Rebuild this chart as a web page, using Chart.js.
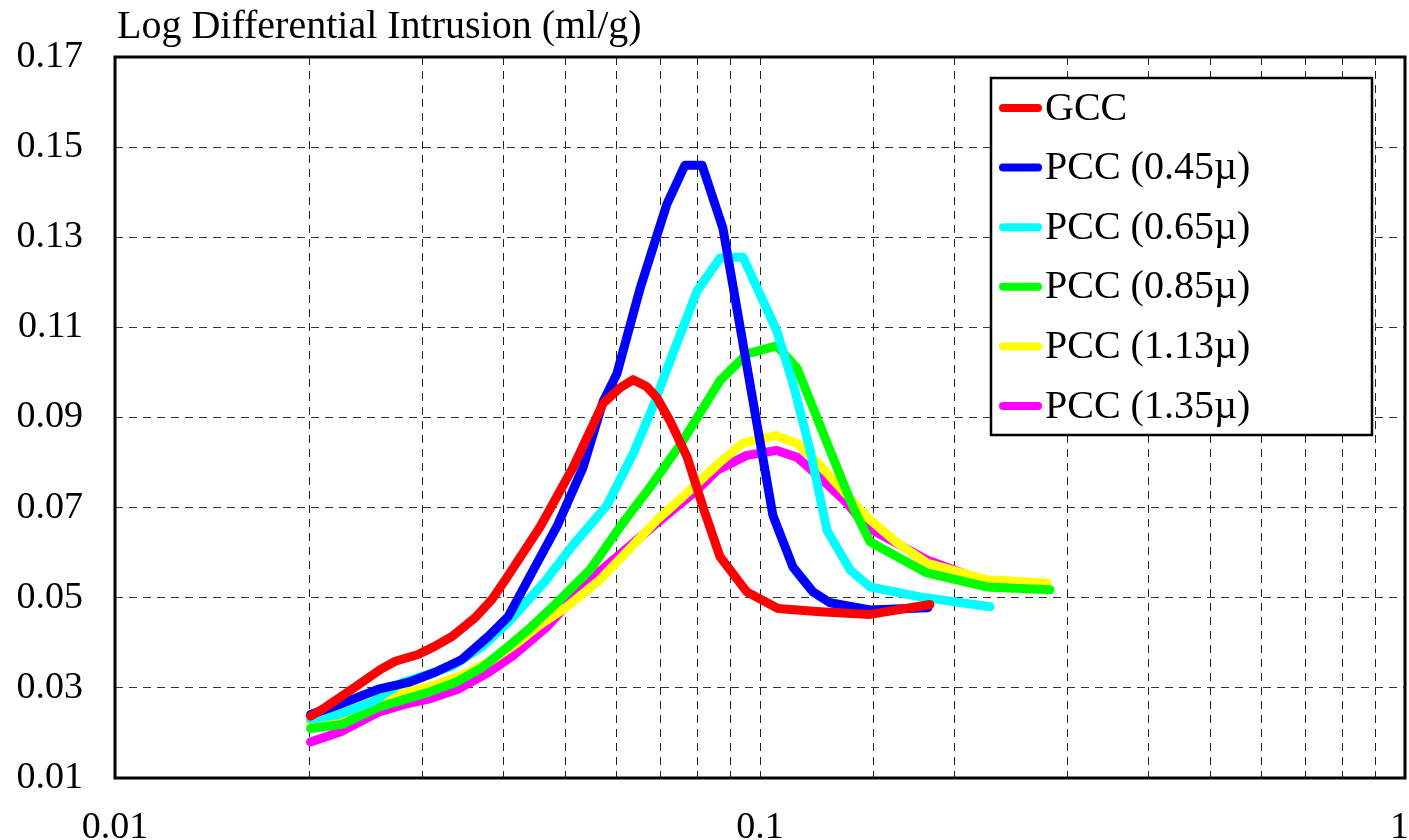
<!DOCTYPE html>
<html>
<head>
<meta charset="utf-8">
<script src="https://cdn.jsdelivr.net/npm/chart.js@4.4.0/dist/chart.umd.min.js"></script>
<style>
  html, body { margin: 0; padding: 0; background: #fff; }
  canvas { display: block; }
</style>
</head>
<body>
<canvas id="chart" width="1409" height="840"></canvas>
<script>
// pore diameter (µm) vs log differential intrusion (ml/g)
const seriesNames = ["GCC", "PCC (0.45µ)", "PCC (0.65µ)", "PCC (0.85µ)", "PCC (1.13µ)", "PCC (1.35µ)"]
const seriesColors = ["#ff0000", "#0000ff", "#00ffff", "#00ff00", "#ffff00", "#ff00ff"]

const gccX = [0.0201, 0.0212, 0.0233, 0.0258, 0.0272, 0.0295, 0.0313, 0.0333, 0.0362, 0.0384, 0.0403, 0.0456, 0.0513, 0.0571, 0.0607, 0.0636, 0.0668, 0.0692, 0.0725, 0.0771, 0.0816, 0.0867, 0.0954, 0.1066, 0.1239, 0.1481, 0.1834]
const gccY = [0.0237, 0.0257, 0.0297, 0.0341, 0.0359, 0.0374, 0.0392, 0.0414, 0.0456, 0.0496, 0.0540, 0.0657, 0.0789, 0.0931, 0.0966, 0.0984, 0.0968, 0.0944, 0.0893, 0.0812, 0.0701, 0.0591, 0.0513, 0.0476, 0.0469, 0.0463, 0.0485]

const p045X = [0.0201, 0.0219, 0.0256, 0.0285, 0.0313, 0.0345, 0.0379, 0.0407, 0.0437, 0.0485, 0.0532, 0.0571, 0.0600, 0.0652, 0.0717, 0.0765, 0.0813, 0.0876, 0.1047, 0.1125, 0.1208, 0.1284, 0.1481, 0.1821]
const p045Y = [0.0241, 0.0259, 0.0297, 0.0312, 0.0334, 0.0363, 0.0414, 0.0458, 0.0540, 0.0660, 0.0790, 0.0935, 0.0997, 0.1187, 0.1373, 0.1460, 0.1460, 0.1320, 0.0683, 0.0568, 0.0513, 0.0489, 0.0473, 0.0478]

const p065X = [0.0201, 0.0222, 0.0250, 0.0279, 0.0306, 0.0333, 0.0371, 0.0407, 0.0464, 0.0513, 0.0579, 0.0636, 0.0683, 0.0725, 0.0799, 0.0867, 0.0941, 0.1062, 0.1125, 0.1196, 0.1270, 0.1379, 0.1481, 0.1770, 0.2273]
const p065Y = [0.0230, 0.0241, 0.0268, 0.0312, 0.0330, 0.0348, 0.0392, 0.0445, 0.0536, 0.0617, 0.0705, 0.0820, 0.0925, 0.1025, 0.1181, 0.1254, 0.1256, 0.1092, 0.0975, 0.0827, 0.0650, 0.0562, 0.0524, 0.0502, 0.0480]

const p085X = [0.0201, 0.0225, 0.0256, 0.0282, 0.0306, 0.0337, 0.0371, 0.0407, 0.0437, 0.0481, 0.0545, 0.0613, 0.0675, 0.0760, 0.0867, 0.0954, 0.1062, 0.1141, 0.1208, 0.1284, 0.1394, 0.1481, 0.1815, 0.2248, 0.2816]
const p085Y = [0.0210, 0.0219, 0.0257, 0.0275, 0.0290, 0.0312, 0.0345, 0.0392, 0.0429, 0.0485, 0.0562, 0.0666, 0.0745, 0.0849, 0.0982, 0.1041, 0.1059, 0.1010, 0.0922, 0.0827, 0.0701, 0.0624, 0.0555, 0.0524, 0.0518]

const p113X = [0.0201, 0.0227, 0.0259, 0.0282, 0.0313, 0.0345, 0.0382, 0.0417, 0.0456, 0.0502, 0.0565, 0.0692, 0.0779, 0.0867, 0.0941, 0.1055, 0.1141, 0.1239, 0.1330, 0.1465, 0.1631, 0.1815, 0.2248, 0.2786]
const p113Y = [0.0224, 0.0235, 0.0279, 0.0290, 0.0306, 0.0328, 0.0359, 0.0396, 0.0440, 0.0480, 0.0540, 0.0672, 0.0739, 0.0801, 0.0843, 0.0860, 0.0843, 0.0794, 0.0745, 0.0679, 0.0622, 0.0577, 0.0540, 0.0533]

const p135X = [0.0201, 0.0225, 0.0256, 0.0282, 0.0306, 0.0340, 0.0379, 0.0413, 0.0468, 0.0545, 0.0692, 0.0799, 0.0858, 0.0954, 0.1062, 0.1141, 0.1239, 0.1364, 0.1465, 0.1815, 0.2248, 0.2717]
const p135Y = [0.0180, 0.0204, 0.0246, 0.0264, 0.0275, 0.0297, 0.0334, 0.0370, 0.0436, 0.0540, 0.0666, 0.0739, 0.0783, 0.0816, 0.0827, 0.0812, 0.0767, 0.0710, 0.0657, 0.0584, 0.0535, 0.0524]

const xLabels = [0.01, 0.1, 1]
const yTitle = "Log Differential Intrusion (ml/g)"

const allX = [gccX, p045X, p065X, p085X, p113X, p135X]
const allY = [gccY, p045Y, p065Y, p085Y, p113Y, p135Y]

const FONT = '"Liberation Serif", "Times New Roman", serif'

const datasets = seriesNames.map((name, i) => ({
  label: name,
  data: allX[i].map((x, j) => ({ x, y: allY[i][j] })),
  borderColor: seriesColors[i],
  backgroundColor: seriesColors[i],
  borderWidth: 9,
  borderCapStyle: "round",
  borderJoinStyle: "round",
  pointRadius: 0,
  tension: 0,
  fill: false
}))

// frame, title, x labels and legend box
const decor = {
  id: "decor",
  afterDraw(chart) {
    const { ctx, chartArea: a, scales: { x } } = chart
    ctx.save()
    ctx.strokeStyle = "#000"
    ctx.lineWidth = 3
    ctx.strokeRect(a.left, a.top, a.right - a.left, a.bottom - a.top)

    ctx.fillStyle = "#000"
    ctx.font = "40px " + FONT
    ctx.textAlign = "left"
    ctx.textBaseline = "alphabetic"
    ctx.fillText(yTitle, a.left + 2, a.top - 19)

    ctx.font = "38px " + FONT
    ctx.textAlign = "center"
    xLabels.forEach((v) => {
      const t = String(v)
      const w = ctx.measureText(t).width
      const px = Math.min(x.getPixelForValue(v), chart.width - w / 2)
      ctx.fillText(t, px, a.bottom + 60)
    })

    const bx = a.right - 414, by = a.top + 21, bw = 381, bh = 357
    ctx.fillStyle = "#fff"
    ctx.fillRect(bx, by, bw, bh)
    ctx.lineWidth = 2.5
    ctx.strokeRect(bx, by, bw, bh)
    ctx.font = "40px " + FONT
    ctx.textAlign = "left"
    ctx.textBaseline = "middle"
    chart.data.datasets.forEach((ds, i) => {
      const cy = by + 30 + i * 59.6
      ctx.strokeStyle = ds.borderColor
      ctx.lineWidth = 8
      ctx.lineCap = "round"
      ctx.beginPath()
      ctx.moveTo(bx + 12, cy)
      ctx.lineTo(bx + 47, cy)
      ctx.stroke()
      ctx.fillStyle = "#000"
      ctx.fillText(ds.label, bx + 54, cy + 1)
    })
    ctx.restore()
  }
}

new Chart(document.getElementById("chart"), {
  type: "line",
  data: { datasets },
  plugins: [decor],
  options: {
    responsive: false,
    animation: false,
    devicePixelRatio: 1,
    layout: { padding: { top: 57, right: 4, bottom: 62, left: 0 } },
    plugins: {
      legend: { display: false },
      title: { display: false },
      tooltip: { enabled: false }
    },
    scales: {
      x: {
        type: "logarithmic",
        min: 0.01,
        max: 1,
        afterFit: (s) => { s.height = 0 },
        ticks: { display: false },
        grid: { color: "#222", lineWidth: 1, drawTicks: false },
        border: { display: false, dash: [8, 6] }
      },
      y: {
        type: "linear",
        min: 0.01,
        max: 0.17,
        afterFit: (s) => { s.width = 115 },
        ticks: {
          stepSize: 0.02,
          padding: 32,
          color: "#000",
          font: { family: FONT, size: 38 },
          callback: (v) => Number(v).toFixed(2)
        },
        grid: { color: "#333", lineWidth: 1, drawTicks: false },
        border: { display: false, dash: [8, 6] }
      }
    }
  }
})
</script>
</body>
</html>
